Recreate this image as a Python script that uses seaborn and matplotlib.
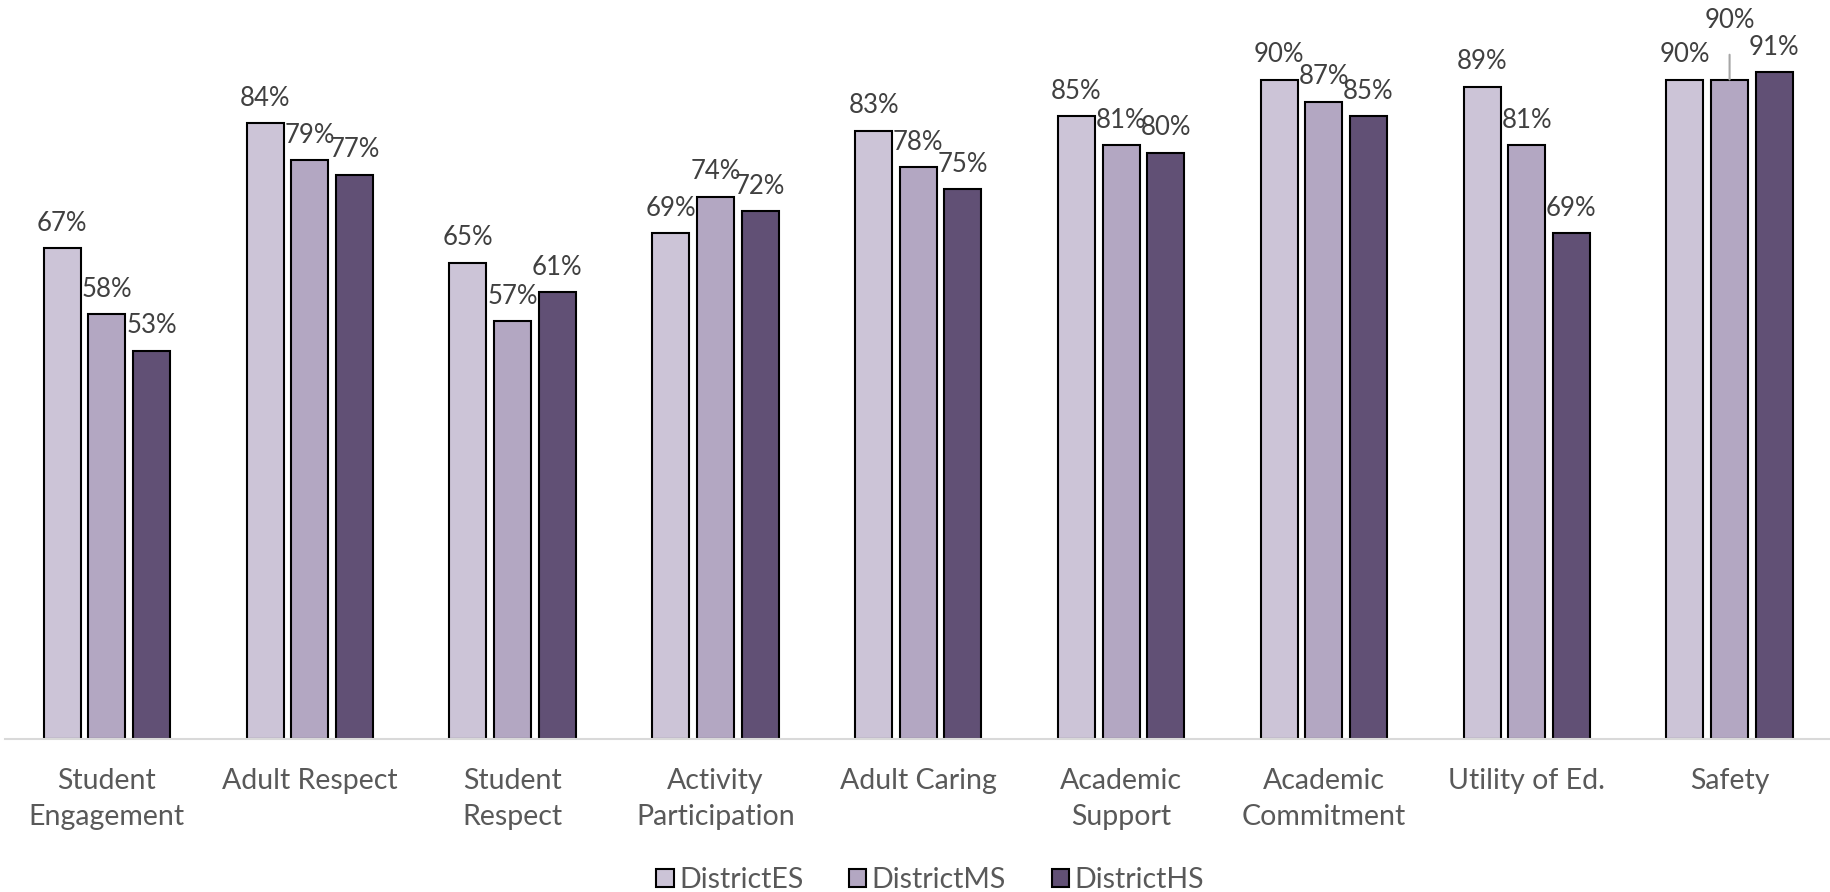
import pandas as pd
import numpy as np
import matplotlib.pyplot as plt
import seaborn as sns

# Survey results by category and school level
categories = ['Student\nEngagement', 'Adult Respect', 'Student\nRespect', 'Activity\nParticipation',
              'Adult Caring', 'Academic\nSupport', 'Academic\nCommitment', 'Utility of Ed.', 'Safety']
schools = ['DistrictES', 'DistrictMS', 'DistrictHS']
es_values = [67, 84, 65, 69, 83, 85, 90, 89, 90]
ms_values = [58, 79, 57, 74, 78, 81, 87, 81, 90]
hs_values = [53, 77, 61, 72, 75, 80, 85, 69, 91]
colors = ['#CCC1DA', '#B3A2C7', '#604A7B']

df = pd.DataFrame({
    'Category': categories * 3,
    'School': np.repeat(schools, len(categories)),
    'Value': es_values + ms_values + hs_values,
})

sns.set_style('white')
plt.rcParams['font.family'] = ['Lato', 'DejaVu Sans']

fig = plt.figure(figsize=(18.31, 8.92), dpi=100)
ax = fig.add_axes([0.003, 0.1715, 0.997, 0.8215])

sns.barplot(data=df, x='Category', y='Value', hue='School', palette=colors,
            width=0.66, gap=0.17, edgecolor='black', linewidth=1.5, ax=ax)

ax.set_ylim(0, 100)
ax.set_xlim(-0.5, len(categories) - 0.5)
ax.set_xlabel('')
ax.set_ylabel('')
ax.set_yticks([])
for side in ['top', 'left', 'right']:
    ax.spines[side].set_visible(False)
ax.spines['bottom'].set_color('#D9D9D9')
ax.spines['bottom'].set_linewidth(1.5)
ax.tick_params(axis='x', length=0, pad=21, labelsize=20.5, labelcolor='#595959')
for lbl in ax.get_xticklabels():
    lbl.set_linespacing(1.45)

# value labels
for ci, container in enumerate(ax.containers):
    for i, bar in enumerate(container):
        val = bar.get_height()
        x = bar.get_x() + bar.get_width() / 2
        if ci == 1 and i == len(categories) - 1:
            # Safety / MS label lifted with leader line
            ax.annotate(f'{val:.0f}%', xy=(x, val), xytext=(x, val + 8.0),
                        ha='center', va='center', fontsize=18.5, color='#404040',
                        arrowprops=dict(arrowstyle='-', color='#A6A6A6', lw=1.5,
                                        shrinkA=13, shrinkB=0),
                        annotation_clip=False)
        else:
            ax.annotate(f'{val:.0f}%', xy=(x, val), xytext=(0, 9), textcoords='offset points',
                        ha='center', va='bottom', fontsize=18.5, color='#404040',
                        annotation_clip=False)

handles, labels = ax.get_legend_handles_labels()
ax.legend_.remove()
fig.legend(handles, labels, loc='lower center', bbox_to_anchor=(0.508, -0.03), ncol=3,
           frameon=False, fontsize=20.5, labelcolor='#595959', handlelength=0.6,
           handleheight=0.6, handletextpad=0.2, columnspacing=1.6)

fig.savefig('out.png', dpi=100)
